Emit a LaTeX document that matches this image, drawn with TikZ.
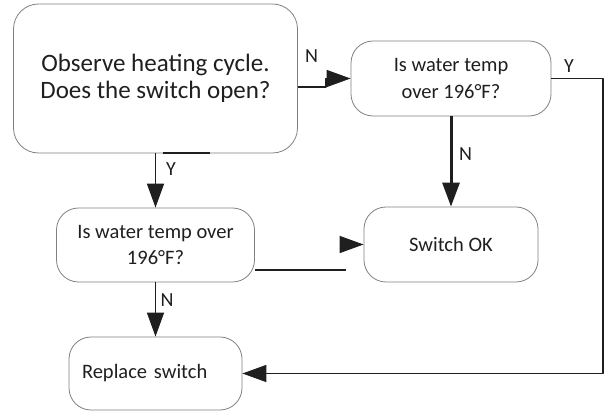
\documentclass[tikz,border=0pt]{standalone}
\usepackage{fontspec}
\setmainfont{Carlito}
\usetikzlibrary{arrows.meta,calc}

\begin{document}
\begin{tikzpicture}[x=1pt, y=-1pt, line join=round,
    stepbox/.style={draw=black!50, line width=0.8pt, rounded corners=22pt,
      inner sep=0pt, align=center, text=black!88,
      font=\fontsize{20.5}{27}\selectfont},
    link/.style={draw=black!88, line width=1.5pt},
    flow/.style={link, -{Triangle[length=24pt,width=17pt]}},
    answer/.style={font=\fontsize{20}{22}\selectfont, text=black!88, inner sep=0pt}]

  \useasboundingbox (0,0) rectangle (605,411);

  % boxes
  \node[stepbox, minimum width=284pt, minimum height=149pt, rounded corners=25pt,
    font=\fontsize{25}{27}\selectfont] (observe) at (155.5,78.5)
    {Observe heating cycle.\\Does the switch open?};
  \node[stepbox, minimum width=200pt, minimum height=75pt] (hotA) at (451,78.5)
    {Is water temp\\over 196°F?};
  \node[stepbox, minimum width=174pt, minimum height=75pt] (ok) at (451,244.5)
    {Switch OK};
  \node[stepbox, minimum width=198pt, minimum height=74pt] (hotB) at (155.5,245)
    {Is water temp over\\196°F?};
  \node[stepbox, text width=147pt, inner xsep=13pt, minimum height=73pt,
    align=left] (replace) at (155.5,373.5) {Replace switch};

  % free ends
  \coordinate (rim) at (603,0);
  \coordinate (gapL) at ($(hotB.east)+(0,25)$);
  \coordinate (gapR) at ($(ok.west)+(-24,0)$);

  % connectors
  \draw[flow] ($(observe.east)+(0,8.5)$) -- ++(28,0) |- (hotA.west);
  \draw[flow] (observe.south) -- (hotB.north);
  \draw[line width=2pt, black!88] ($(observe.south)+(7,0)$) -- ++(47,0);
  \draw[flow, line width=3pt] (hotA.south) -- (ok.north);
  \draw[flow] (hotA.east) -- (hotA.east -| rim) |- (replace.east);
  \draw[link] (gapL) -- ++(91,0);
  \draw[flow] (gapR) -- (ok.west);
  \draw[flow] (hotB.south) -- (replace.north);

  % answers
  \node[answer] (noA) at (311.5,56.5) {N};
  \node[answer] (yesA) at (569,66) {Y};
  \node[answer] (noB) at (465.5,154) {N};
  \node[answer] (yesB) at (171,169.5) {Y};
  \node[answer] (noC) at (167,300.5) {N};

\end{tikzpicture}
\end{document}
